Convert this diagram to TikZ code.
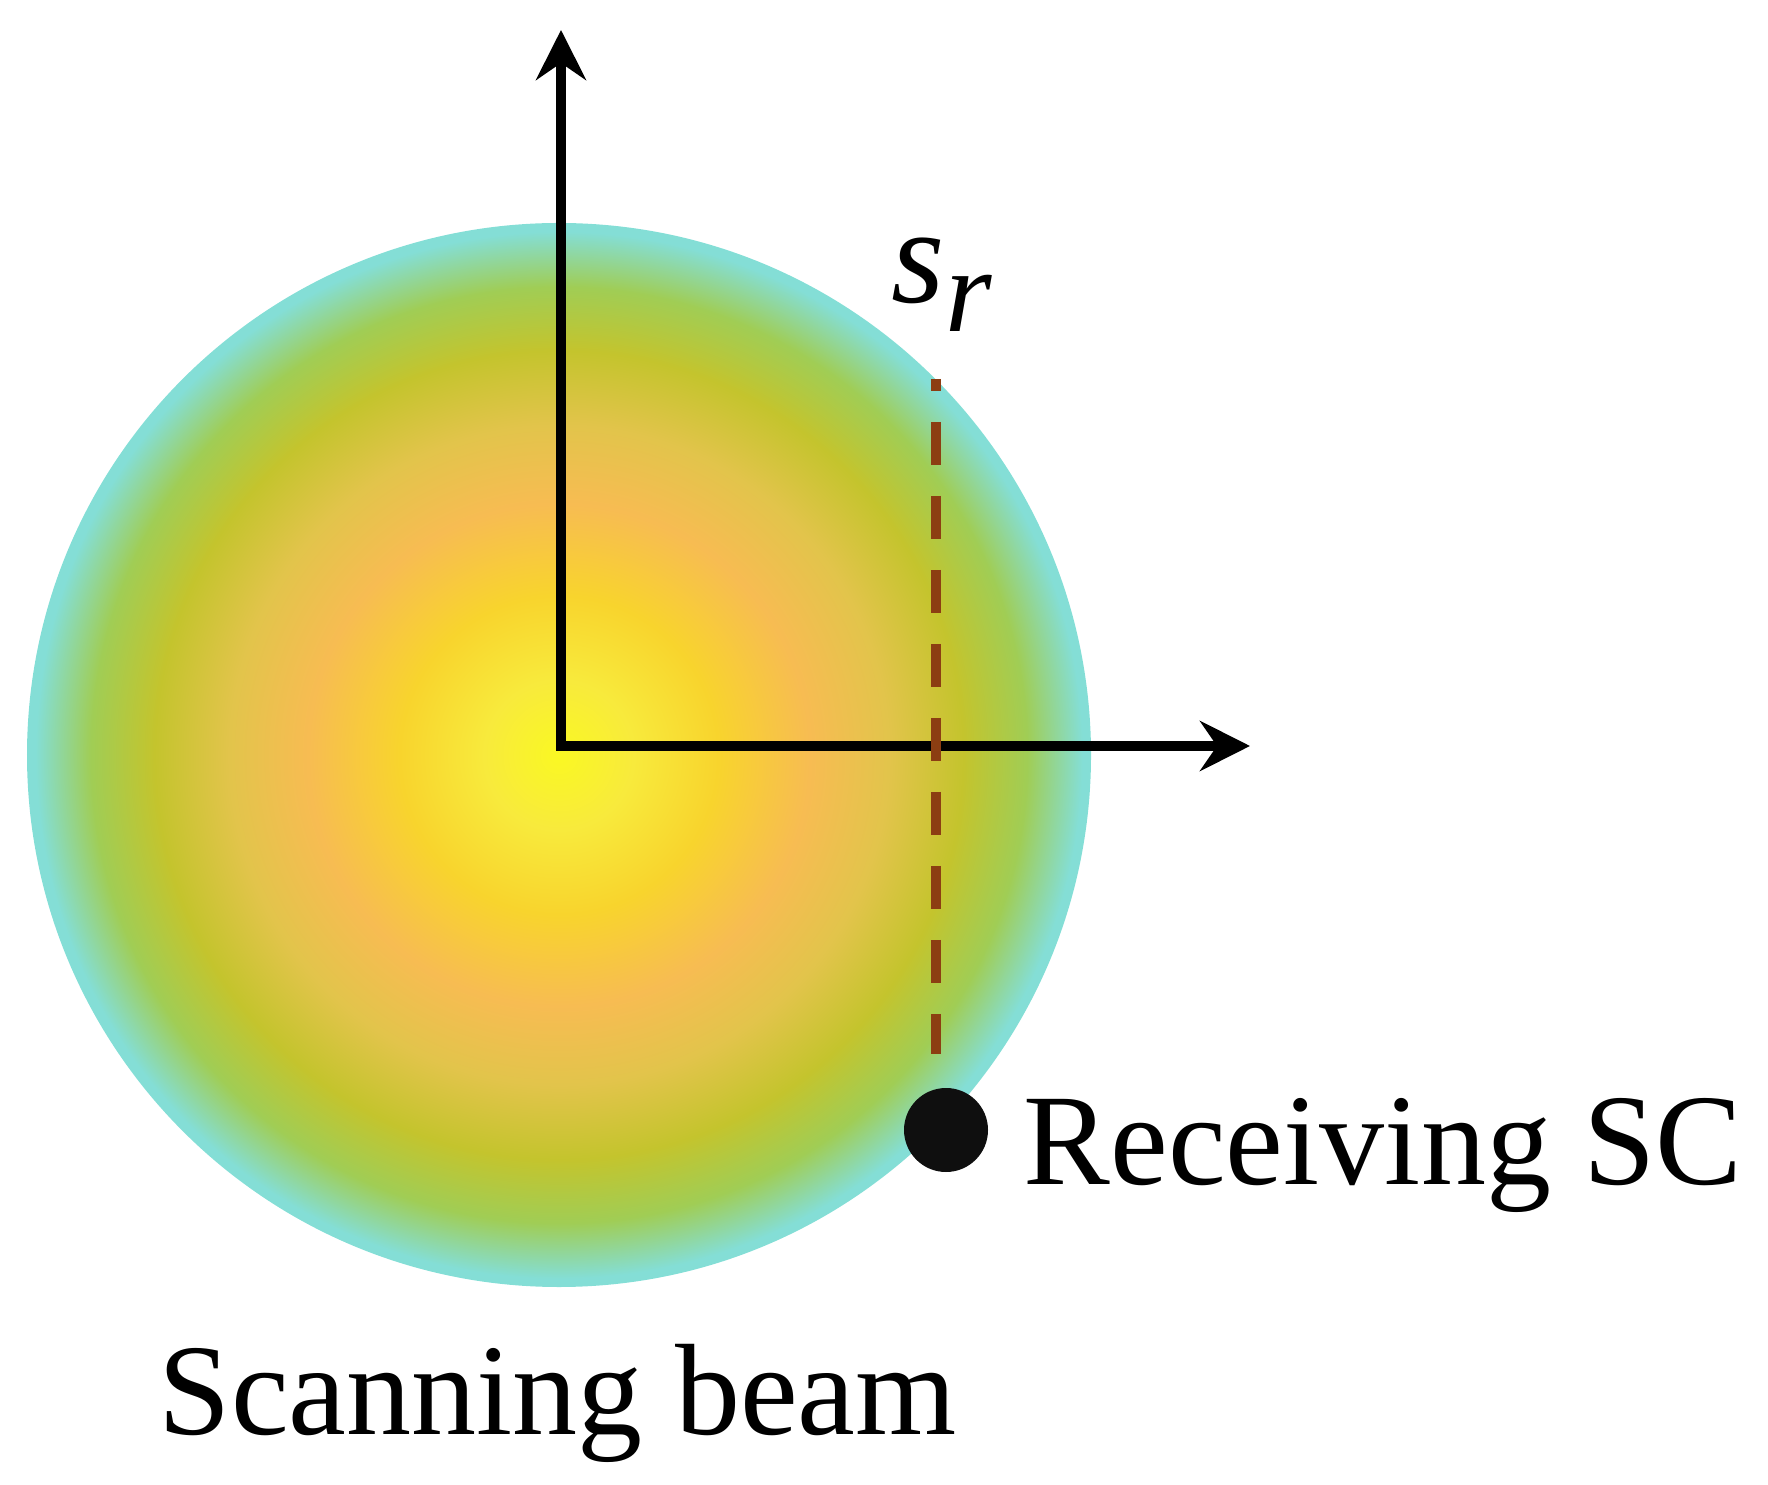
\documentclass[tikz,border=0pt]{standalone}
\usepackage{fontspec}
\setmainfont{Liberation Serif}
\usetikzlibrary{arrows.meta, positioning, calc}
\definecolor{GlowCore}{RGB}{250,248,35}
\definecolor{GlowLemon}{RGB}{248,234,60}
\definecolor{GlowGold}{RGB}{248,212,45}
\definecolor{GlowOrange}{RGB}{247,188,82}
\definecolor{GlowTan}{RGB}{226,196,75}
\definecolor{GlowOlive}{RGB}{196,196,45}
\definecolor{GlowGreen}{RGB}{160,205,85}
\definecolor{GlowCyan}{RGB}{132,222,214}
\definecolor{DashBrown}{RGB}{140,62,18}
\definecolor{DotBlack}{RGB}{15,15,15}
\pgfdeclareradialshading{beamglow}{\pgfpoint{0bp}{0bp}}{%
	color(0bp)=(GlowCore); color(3.5bp)=(GlowLemon); color(7.5bp)=(GlowGold);
	color(11.8bp)=(GlowOrange); color(15.5bp)=(GlowTan); color(19bp)=(GlowOlive);
	color(22bp)=(GlowGreen); color(24.6bp)=(GlowCyan); color(50bp)=(GlowCyan)}

\begin{document}
\begin{tikzpicture}[
	glow/.style={circle, inner sep=0pt, minimum size=10.64cm, shading=beamglow},
	axis/.style={{Stealth[length=5mm, width=5mm, inset=1.7mm]}-{Stealth[length=5mm, width=5mm, inset=1.7mm]},
		line width=1mm, line join=miter},
	srline/.style={DashBrown, line width=1mm, dash pattern=on 4.3mm off 3.1mm, dash phase=3.1mm},
	scdot/.style={circle, fill=DotBlack, inner sep=0pt, minimum size=0.84cm},
	lbl/.style={inner sep=0pt, font=\fontsize{37}{40}\selectfont}]

	\useasboundingbox (0,0) rectangle (17.68,14.84);

	\node[glow] (beam) at (5.59,7.29) {};

	\coordinate (o)    at (5.61,7.38);
	\coordinate (ytip) at (5.61,14.54);
	\coordinate (xtip) at (12.50,7.38);
	\draw[axis] (ytip) -- (o) -- (xtip);

	\coordinate (dtop) at (9.36,11.05);
	\coordinate (dbot) at (9.36,4.30);
	\draw[srline] (dtop) -- (dbot);

	\node[scdot] (sc) at (9.46,3.54) {};

	\node[inner sep=0pt, anchor=base west, font=\fontsize{39}{42}\selectfont] (sr) at (8.91,11.81)
		{\textit{s}\raisebox{-0.29cm}{\fontsize{34}{36}\selectfont\textit{r}}};
	\node[lbl, anchor=base west] (rx) at (10.23,3.00) {Receiving SC};
	\node[lbl, anchor=base west] (scan) at (1.58,0.50) {Scanning beam};
\end{tikzpicture}
\end{document}
